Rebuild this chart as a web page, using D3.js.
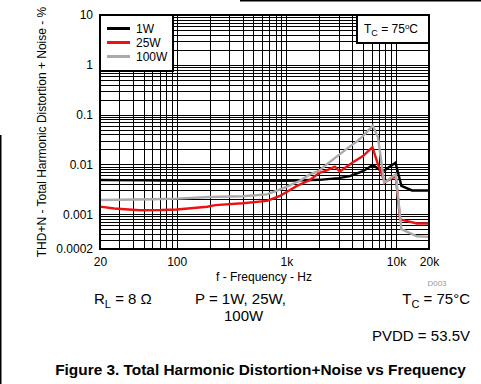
<!DOCTYPE html>
<html><head><meta charset="utf-8">
<script src="https://cdn.jsdelivr.net/npm/d3@7"></script>
<style>
html,body{margin:0;padding:0;background:#fff;}
svg{display:block;font-family:"Liberation Sans",Arial,sans-serif;}
</style></head>
<body>
<svg id="c" width="481" height="384"></svg>
<script>
// ---- data ----
const freq1W  = [20, 50, 100, 200, 500, 1000, 2000, 3000, 3800, 5000, 6150, 7500, 9900, 11200, 14000, 20000];
const thd1W   = [0.00485, 0.00478, 0.0047, 0.00468, 0.00468, 0.0047, 0.0049, 0.0053, 0.0058, 0.0073, 0.0097, 0.0071, 0.0108, 0.0037, 0.0030, 0.0030];
const freq25W = [20, 27, 46, 73, 100, 127, 190, 225, 400, 666, 875, 1250, 1640, 2000, 2250, 2770, 3080, 4050, 5000, 6100, 6850, 7900, 9950, 10900, 15500, 20000];
const thd25W  = [0.00142, 0.0013, 0.0012, 0.00121, 0.00124, 0.0013, 0.00141, 0.00152, 0.00166, 0.00185, 0.00232, 0.0037, 0.00485, 0.0068, 0.0073, 0.0090, 0.0072, 0.0110, 0.0147, 0.0222, 0.0100, 0.0044, 0.0058, 0.00079, 0.00065, 0.00065];
const freq100W = [20, 60, 100, 200, 400, 666, 932, 1330, 1640, 1980, 2400, 3600, 4400, 5000, 6150, 6850, 7800, 9950, 11200, 15500, 20000];
const thd100W  = [0.00193, 0.002, 0.00205, 0.00222, 0.0023, 0.0025, 0.0033, 0.0047, 0.0063, 0.0074, 0.0105, 0.021, 0.029, 0.037, 0.060, 0.035, 0.0043, 0.0063, 0.0005, 0.00036, 0.00035];
const seriesNames = ["1W", "25W", "100W"];
const seriesColors = ["#000000", "#ee1111", "#aaaaaa"];
const xTickValues = [20, 100, 1000, 10000, 20000];
const xTickLabels = ["20", "100", "1k", "10k", "20k"];
const yTickValues = [10, 1, 0.1, 0.01, 0.001, 0.0002];
const yTickLabels = ["10", "1", "0.1", "0.01", "0.001", "0.0002"];

const series = [
  {name: seriesNames[0], color: seriesColors[0], f: freq1W, v: thd1W},
  {name: seriesNames[1], color: seriesColors[1], f: freq25W, v: thd25W},
  {name: seriesNames[2], color: seriesColors[2], f: freq100W, v: thd100W}
];

const svg = d3.select("#c");
const L = 100, R = 429, T = 15, B = 249;
const x = d3.scaleLog().domain([20, 20000]).range([L, R]);
const y = d3.scaleLog().domain([0.0002, 10]).range([B, T]);
const snap = p => Math.round(p) + 0.5;

// outer frame fragments
svg.append("line").attr("x1", 0.75).attr("x2", 0.75).attr("y1", 135).attr("y2", 384).attr("stroke", "#000").attr("stroke-width", 1.5);
svg.append("line").attr("x1", 240).attr("x2", 481).attr("y1", 0.75).attr("y2", 0.75).attr("stroke", "#000").attr("stroke-width", 1.5);

// grid
const g = svg.append("g");
const xGrid = [];
for (let d = 10; d <= 10000; d *= 10) for (let m = 1; m <= 9; m++) { const f = d * m; if (f > 20 && f < 20000) xGrid.push(f); }
const yGrid = [];
for (let d = 0.0001; d <= 1.0001; d *= 10) for (let m = 1; m <= 9; m++) { const v = +(d * m).toPrecision(3); if (v > 0.0002 && v < 10) yGrid.push(v); }
g.selectAll(".vx").data(xGrid).enter().append("line")
  .attr("x1", d => snap(x(d))).attr("x2", d => snap(x(d))).attr("y1", T).attr("y2", B)
  .attr("stroke", "#000").attr("stroke-width", 1);
g.selectAll(".hy").data(yGrid).enter().append("line")
  .attr("y1", d => snap(y(d))).attr("y2", d => snap(y(d))).attr("x1", L).attr("x2", R)
  .attr("stroke", "#000").attr("stroke-width", 1);

// clip
svg.append("defs").append("clipPath").attr("id", "clip").append("rect")
  .attr("x", L).attr("y", T).attr("width", R - L).attr("height", B - T);

const line = d3.line().x(d => x(d[0])).y(d => y(d[1]));
const curves = svg.append("g").attr("clip-path", "url(#clip)");
series.forEach(s => {
  curves.append("path").datum(s.f.map((f, i) => [f, s.v[i]]))
    .attr("d", line).attr("fill", "none").attr("stroke", s.color)
    .attr("stroke-width", 2.4).attr("stroke-linejoin", "miter");
});

// plot border
svg.append("rect").attr("x", L).attr("y", T).attr("width", R - L).attr("height", B - T)
  .attr("fill", "none").attr("stroke", "#000").attr("stroke-width", 2);

// axes labels
const yAxis = d3.axisLeft(y).tickValues(yTickValues).tickFormat((d, i) => yTickLabels[i]).tickSize(0).tickPadding(6);
const ya = svg.append("g").attr("transform", `translate(${L - 1},0)`).call(yAxis);
ya.select(".domain").remove();
ya.selectAll("text").attr("font-size", 12).attr("font-family", "Liberation Sans, Arial, sans-serif").attr("fill", "#000");

const xAxis = d3.axisBottom(x).tickValues(xTickValues).tickFormat((d, i) => xTickLabels[i]).tickSize(0).tickPadding(8);
const xa = svg.append("g").attr("transform", `translate(0,${B})`).call(xAxis);
xa.select(".domain").remove();
xa.selectAll("text").attr("font-size", 12).attr("font-family", "Liberation Sans, Arial, sans-serif").attr("fill", "#000");

svg.append("text").attr("x", 264).attr("y", 281).attr("text-anchor", "middle").attr("font-size", 12).text("f - Frequency - Hz");
svg.append("text").attr("transform", "translate(46,132) rotate(-90)").attr("text-anchor", "middle").attr("font-size", 12)
  .text("THD+N - Total Harmonic Distortion + Noise - %");
svg.append("text").attr("x", 437).attr("y", 286).attr("text-anchor", "middle").attr("font-size", 8).attr("fill", "#999").text("D003");

// legend
const lg = svg.append("g");
lg.append("rect").attr("x", L).attr("y", T).attr("width", 73).attr("height", 56).attr("fill", "#fff").attr("stroke", "#000").attr("stroke-width", 2);
series.forEach((s, i) => {
  const yy = 28.5 + i * 14;
  lg.append("line").attr("x1", 107).attr("x2", 130).attr("y1", yy).attr("y2", yy).attr("stroke", s.color).attr("stroke-width", 3);
  lg.append("text").attr("x", 136).attr("y", yy + 4.5).attr("font-size", 12).text(s.name);
});

// Tc box
svg.append("rect").attr("x", 357).attr("y", T).attr("width", R - 357).attr("height", 28).attr("fill", "#fff").attr("stroke", "#000").attr("stroke-width", 2);
const tc = svg.append("text").attr("x", 364).attr("y", 33).attr("font-size", 12);
tc.append("tspan").text("T");
tc.append("tspan").attr("font-size", 9).attr("dy", 3).text("C");
tc.append("tspan").attr("dy", -3).text(" = 75");
tc.append("tspan").attr("font-size", 8).attr("dy", -4).text("o");
tc.append("tspan").attr("dy", 4).text("C");

// conditions
const rl = svg.append("text").attr("x", 94).attr("y", 304).attr("font-size", 15);
rl.append("tspan").text("R");
rl.append("tspan").attr("font-size", 11).attr("dy", 4).text("L");
rl.append("tspan").attr("dy", -4).text(" = 8 Ω");
svg.append("text").attr("x", 195).attr("y", 304).attr("font-size", 15).text("P = 1W, 25W,");
svg.append("text").attr("x", 224).attr("y", 321).attr("font-size", 15).text("100W");
const tc2 = svg.append("text").attr("x", 470).attr("y", 304).attr("font-size", 15).attr("text-anchor", "end");
tc2.append("tspan").text("T");
tc2.append("tspan").attr("font-size", 11).attr("dy", 4).text("C");
tc2.append("tspan").attr("dy", -4).text(" = 75°C");
svg.append("text").attr("x", 470).attr("y", 341).attr("font-size", 15).attr("text-anchor", "end").text("PVDD = 53.5V");

svg.append("text").attr("x", 260.5).attr("y", 375).attr("font-size", 15.4).attr("font-weight", "bold").attr("text-anchor", "middle")
  .text("Figure 3. Total Harmonic Distortion+Noise vs Frequency");
</script>
</body></html>
